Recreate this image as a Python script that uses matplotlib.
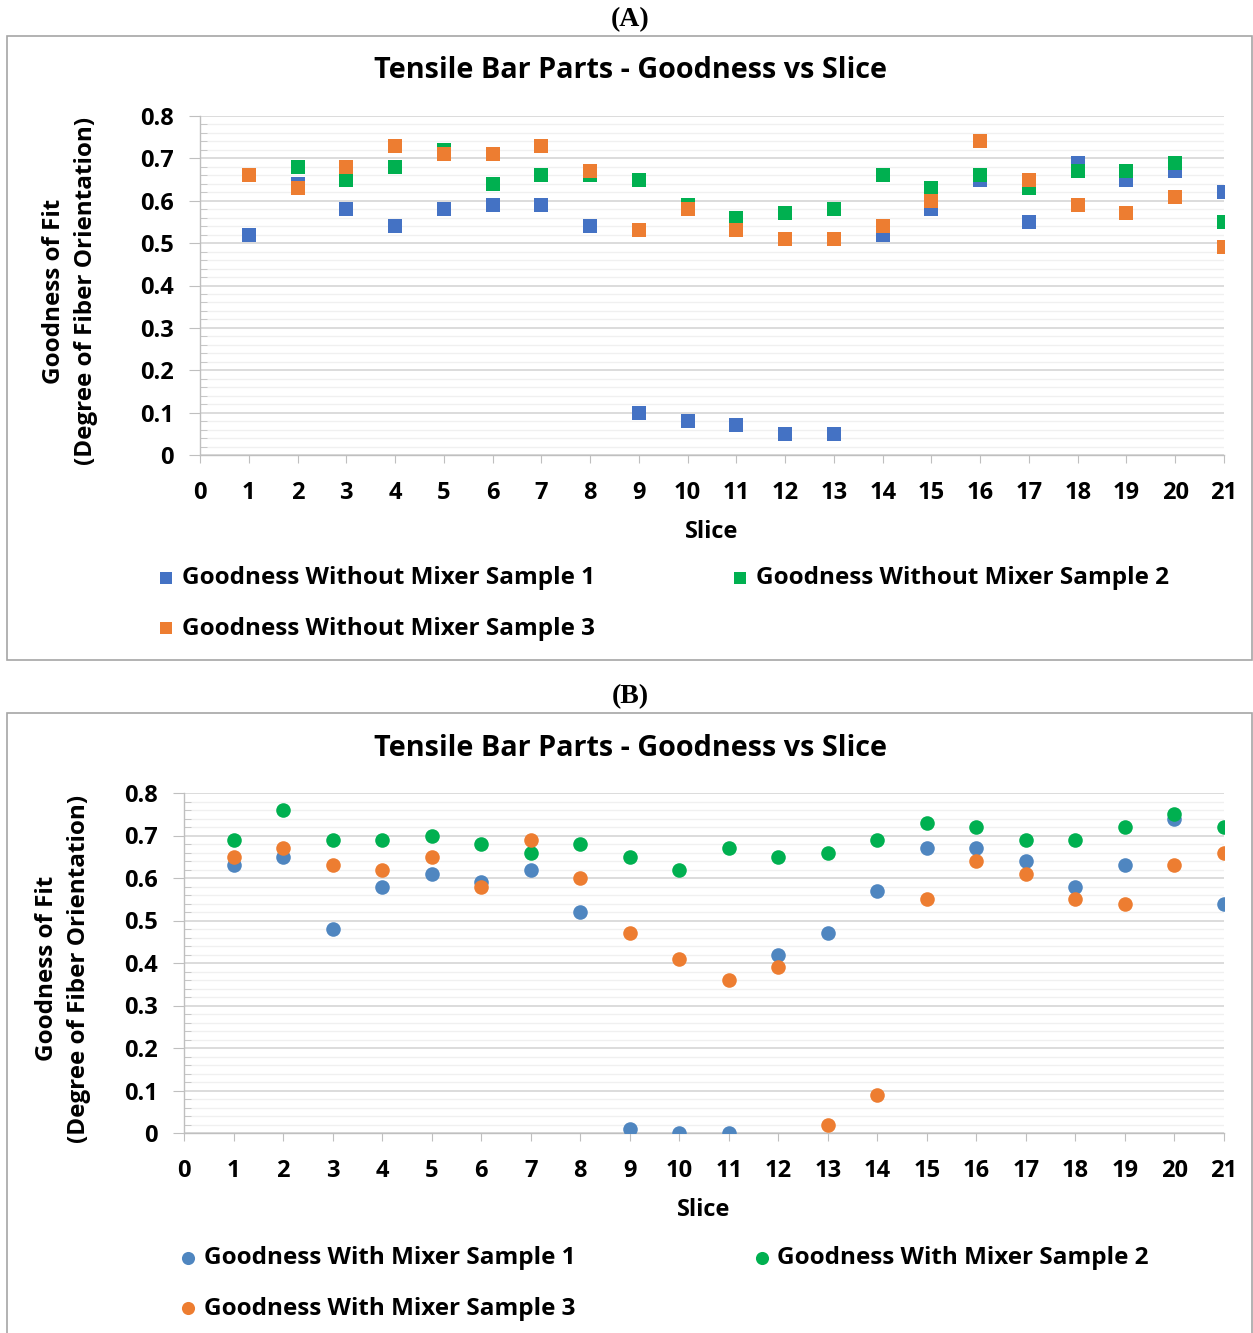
import matplotlib.pyplot as plt
from matplotlib.patches import Rectangle
from matplotlib.ticker import MultipleLocator, FuncFormatter

# slice index 1..21
slices = list(range(1, 22))

# (A) parts printed without the static mixer
without_s1 = [0.52, 0.64, 0.58, 0.54, 0.58, 0.59, 0.59, 0.54, 0.10, 0.08, 0.07,
              0.05, 0.05, 0.52, 0.58, 0.65, 0.55, 0.69, 0.65, 0.67, 0.62]
without_s2 = [None, 0.68, 0.65, 0.68, 0.72, 0.64, 0.66, 0.66, 0.65, 0.59, 0.56,
              0.57, 0.58, 0.66, 0.63, 0.66, 0.63, 0.67, 0.67, 0.69, 0.55]
without_s3 = [0.66, 0.63, 0.68, 0.73, 0.71, 0.71, 0.73, 0.67, 0.53, 0.58, 0.53,
              0.51, 0.51, 0.54, 0.60, 0.74, 0.65, 0.59, 0.57, 0.61, 0.49]

# (B) parts printed with the static mixer
with_s1 = [0.63, 0.65, 0.48, 0.58, 0.61, 0.59, 0.62, 0.52, 0.01, 0.00, 0.00,
           0.42, 0.47, 0.57, 0.67, 0.67, 0.64, 0.58, 0.63, 0.74, 0.54]
with_s2 = [0.69, 0.76, 0.69, 0.69, 0.70, 0.68, 0.66, 0.68, 0.65, 0.62, 0.67,
           0.65, 0.66, 0.69, 0.73, 0.72, 0.69, 0.69, 0.72, 0.75, 0.72]
with_s3 = [0.65, 0.67, 0.63, 0.62, 0.65, 0.58, 0.69, 0.60, 0.47, 0.41, 0.36,
           0.39, 0.02, 0.09, 0.55, 0.64, 0.61, 0.55, 0.54, 0.63, 0.66]

labels_a = ["Goodness Without Mixer Sample 1", "Goodness Without Mixer Sample 2",
            "Goodness Without Mixer Sample 3"]
labels_b = ["Goodness With Mixer Sample 1", "Goodness With Mixer Sample 2",
            "Goodness With Mixer Sample 3"]

W, H = 1253, 1333
plt.rcParams["font.family"] = ["Open Sans", "DejaVu Sans"]
plt.rcParams["font.weight"] = "bold"

fig = plt.figure(figsize=(W / 100, H / 100), dpi=100)


def px_box(left, top, right, bottom):
    return [left / W, 1 - bottom / H, (right - left) / W, (bottom - top) / H]


def series_xy(vals):
    xs = [s for s, v in zip(slices, vals) if v is not None]
    ys = [v for v in vals if v is not None]
    return xs, ys


def fmt_y(v, _pos):
    return "0" if abs(v) < 1e-9 else f"{v:.1f}"


def draw_panel(box, series, labels, colors, marker, size, title_y, ylab_x,
               slice_y, leg_xy, colspace):
    ax = fig.add_axes(px_box(*box))
    handles = []
    for vals, lab, col in zip(series, labels, colors):
        xs, ys = series_xy(vals)
        h = ax.scatter(xs, ys, s=size, marker=marker, color=col, label=lab,
                       linewidths=0, zorder=3)
        handles.append(h)
    ax.set_xlim(0, 21)
    ax.set_ylim(0, 0.8)
    ax.xaxis.set_major_locator(MultipleLocator(1))
    ax.yaxis.set_major_locator(MultipleLocator(0.1))
    ax.yaxis.set_minor_locator(MultipleLocator(0.02))
    ax.yaxis.set_major_formatter(FuncFormatter(fmt_y))
    ax.grid(which="major", axis="y", color="#d9d9d9", lw=1.3, zorder=0)
    ax.grid(which="minor", axis="y", color="#f0f0f0", lw=1.0, zorder=0)
    for side in ("top", "right"):
        ax.spines[side].set_visible(False)
    for side in ("left", "bottom"):
        ax.spines[side].set_color("#bfbfbf")
        ax.spines[side].set_linewidth(1.0)
    ax.tick_params(axis="x", which="major", length=6, color="#bfbfbf",
                   labelsize=17, pad=13)
    ax.tick_params(axis="y", which="major", length=8, color="#bfbfbf",
                   labelsize=17, pad=11)
    ax.tick_params(axis="y", which="minor", length=5, direction="in",
                   color="#bfbfbf")
    for t in ax.get_xticklabels() + ax.get_yticklabels():
        t.set_fontweight("bold")

    left, top, right, bottom = box
    fig.text(630 / W, 1 - title_y / H, "Tensile Bar Parts - Goodness vs Slice",
             ha="center", va="center", fontsize=20.7, fontweight="bold")
    fig.text(ylab_x / W, 1 - (top + bottom + 11) / 2 / H,
             "Goodness of Fit\n(Degree of Fiber Orientation)", rotation=90,
             ha="center", va="center", fontsize=17.5, fontweight="bold",
             linespacing=1.45)
    fig.text((left + right) / 2 / W, 1 - slice_y / H, "Slice",
             ha="center", va="center", fontsize=17, fontweight="bold")

    order = [0, 2, 1]
    ax.legend([handles[i] for i in order], [labels[i] for i in order],
              ncol=2, loc="upper left",
              bbox_to_anchor=(leg_xy[0] / W, 1 - leg_xy[1] / H),
              bbox_transform=fig.transFigure, frameon=False,
              prop={"size": 17.5, "weight": "bold"}, handlelength=0.6,
              handletextpad=0.35, columnspacing=colspace, labelspacing=1.1,
              borderpad=0, borderaxespad=0, markerscale=0.9)
    return ax


blue_a, orange, green = "#4472C4", "#ED7D31", "#00B050"
blue_b = "#4F86C0"

draw_panel((200, 116, 1224, 455), [without_s1, without_s2, without_s3],
           labels_a, [blue_a, green, orange], "s", 90, 71, 70, 532,
           (159, 566), 5.65)
draw_panel((184, 793, 1224, 1133), [with_s1, with_s2, with_s3],
           labels_b, [blue_b, green, orange], "o", 110, 748, 63, 1210,
           (181, 1246), 7.35)

# panel frames and letters
fig.patches.append(Rectangle((7 / W, 1 - 660 / H), 1245 / W, 624 / H,
                             transform=fig.transFigure, fill=False,
                             edgecolor="#a6a6a6", lw=1.2))
fig.patches.append(Rectangle((7 / W, 1 - 1340 / H), 1245 / W, 627 / H,
                             transform=fig.transFigure, fill=False,
                             edgecolor="#a6a6a6", lw=1.2))
for lab, y in (("(A)", 20), ("(B)", 697)):
    fig.text(630 / W, 1 - y / H, lab, ha="center", va="center",
             fontsize=20, fontweight="bold", family="Liberation Serif")

fig.savefig("out.png", dpi=100)
